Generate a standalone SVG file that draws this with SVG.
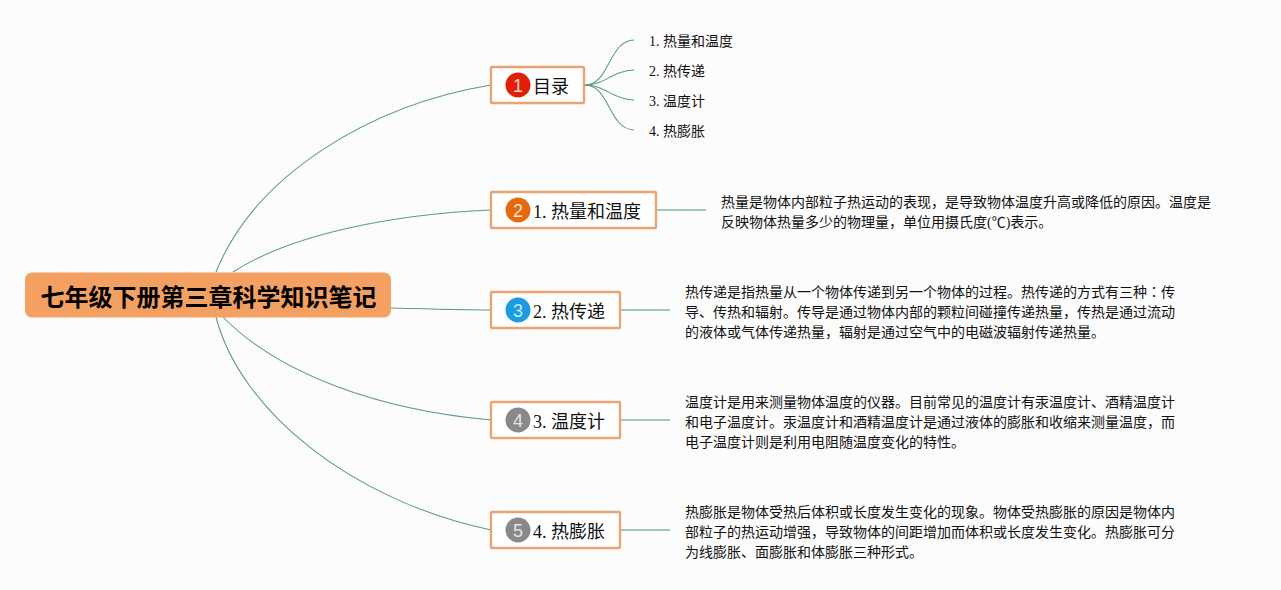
<svg xmlns="http://www.w3.org/2000/svg" width="1281" height="590" viewBox="0 0 1281 590">
<style>
text{font-family:"Liberation Serif","Noto Sans CJK SC",serif;fill:#111}
.lk{fill:none;stroke:#5a9b8a;stroke-width:1.05}
.st{fill:none;stroke:#a3c6bb;stroke-width:1.8}
.box{fill:#fff;stroke:#e8a472;stroke-width:2.4}
.lb{font-size:18px}
.s{font-size:14px}
.n{font-family:"Liberation Sans",sans-serif;font-size:18px;fill:#fff;fill-opacity:.8;text-anchor:middle}
</style>
<rect width="1281" height="590" fill="#fcfcfc"/>
<g id="connectors">
<path class="lk" d="M216 272C255 175 370 105 491 85"/>
<path class="lk" d="M233 272C295 232 400 214 491 210"/>
<path class="lk" d="M391 308C430 309 460 310 491 310"/>
<path class="lk" d="M223 317C280 375 380 410 491 420"/>
<path class="lk" d="M216 317C240 410 350 500 491 530"/>
<path class="lk" d="M585 85C610 85 608 41 634 40"/>
<path class="lk" d="M585 85C605 85 612 71 634 70"/>
<path class="lk" d="M585 85C605 85 612 99 634 100"/>
<path class="lk" d="M585 85C610 85 608 129 634 130"/>
<path class="st" d="M657 210H706"/>
<path class="st" d="M621 310H670"/>
<path class="st" d="M621 420H670"/>
<path class="st" d="M621 530H670"/>
</g>
<g id="root">
<rect x="25" y="272.500" width="366" height="45" rx="7" fill="#f4a063"/>
<text x="40.500" y="305.500" font-size="24" font-weight="700" style="fill:#000">七年级下册第三章科学知识笔记</text>
</g>
<g id="node-1">
<rect class="box" x="491" y="67" width="93" height="36" rx="1"/>
<circle cx="518" cy="85" r="12.500" fill="#df1f06"/>
<text class="n" x="518" y="91.500">1</text>
<text class="lb" x="533" y="93">目录</text>
</g>
<g id="node-2">
<rect class="box" x="491" y="192" width="165" height="36" rx="1"/>
<circle cx="518" cy="210" r="12.500" fill="#e46a12"/>
<text class="n" x="518" y="216.500">2</text>
<text class="lb" x="533" y="218">1. 热量和温度</text>
</g>
<g id="node-3">
<rect class="box" x="491" y="292" width="129" height="36" rx="1"/>
<circle cx="518" cy="310" r="12.500" fill="#1b9be0"/>
<text class="n" x="518" y="316.500">3</text>
<text class="lb" x="533" y="318">2. 热传递</text>
</g>
<g id="node-4">
<rect class="box" x="491" y="402" width="129" height="36" rx="1"/>
<circle cx="518" cy="420" r="12.500" fill="#8b888c"/>
<text class="n" x="518" y="426.500">4</text>
<text class="lb" x="533" y="428">3. 温度计</text>
</g>
<g id="node-5">
<rect class="box" x="491" y="512" width="129" height="36" rx="1"/>
<circle cx="518" cy="530" r="12.500" fill="#8b888c"/>
<text class="n" x="518" y="536.500">5</text>
<text class="lb" x="533" y="538">4. 热膨胀</text>
</g>
<g id="toc">
<text class="s" x="649" y="46">1. 热量和温度</text>
<text class="s" x="649" y="76">2. 热传递</text>
<text class="s" x="649" y="106">3. 温度计</text>
<text class="s" x="649" y="136">4. 热膨胀</text>
</g>
<g id="note-1">
<text class="s" x="721" y="206.500">热量是物体内部粒子热运动的表现，是导致物体温度升高或降低的原因。温度是</text>
<text class="s" x="721" y="226.500">反映物体热量多少的物理量，单位用摄氏度(℃)表示。</text>
</g>
<g id="note-2">
<text class="s" x="685" y="296.500">热传递是指热量从一个物体传递到另一个物体的过程。热传递的方式有三种<tspan style="font-family:'Noto Sans CJK TC',sans-serif">：</tspan>传</text>
<text class="s" x="685" y="316.500">导、传热和辐射。传导是通过物体内部的颗粒间碰撞传递热量，传热是通过流动</text>
<text class="s" x="685" y="336.500">的液体或气体传递热量，辐射是通过空气中的电磁波辐射传递热量。</text>
</g>
<g id="note-3">
<text class="s" x="685" y="406.500">温度计是用来测量物体温度的仪器。目前常见的温度计有汞温度计、酒精温度计</text>
<text class="s" x="685" y="426.500">和电子温度计。汞温度计和酒精温度计是通过液体的膨胀和收缩来测量温度，而</text>
<text class="s" x="685" y="446.500">电子温度计则是利用电阻随温度变化的特性。</text>
</g>
<g id="note-4">
<text class="s" x="685" y="516.500">热膨胀是物体受热后体积或长度发生变化的现象。物体受热膨胀的原因是物体内</text>
<text class="s" x="685" y="536.500">部粒子的热运动增强，导致物体的间距增加而体积或长度发生变化。热膨胀可分</text>
<text class="s" x="685" y="556.500">为线膨胀、面膨胀和体膨胀三种形式。</text>
</g>
</svg>
